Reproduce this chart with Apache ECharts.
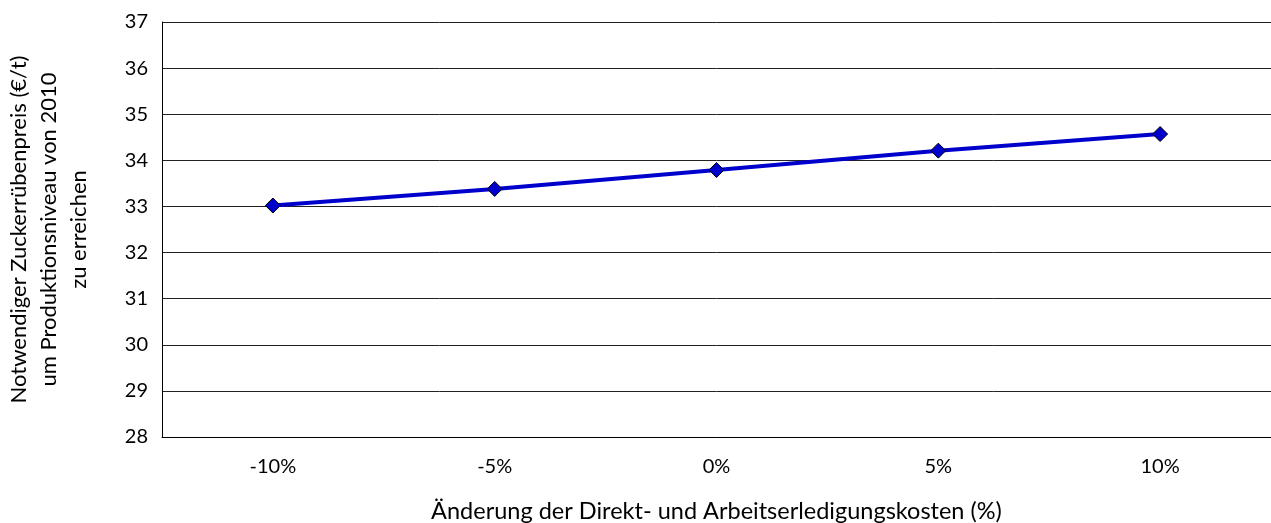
<!DOCTYPE html>
<html>
<head>
<meta charset="utf-8">
<script src="https://cdn.jsdelivr.net/npm/echarts@6/dist/echarts.min.js"></script>
<style>
  html, body { margin: 0; padding: 0; background: #fff; }
  #chart { width: 1271px; height: 523px; }
</style>
</head>
<body>
<div id="chart"></div>
<script>
// Änderung der Kosten (Kategorien) und notwendiger Preis
const categories = ['-10%', '-5%', '0%', '5%', '10%']
const preis = [33.02, 33.38, 33.79, 34.21, 34.57]

const fontFamily = 'Lato, "Open Sans", sans-serif'

const chart = echarts.init(document.getElementById('chart'))
chart.setOption({
  animation: false,
  grid: {
    left: 162,
    right: 0,
    top: 22,
    bottom: 86,
    containLabel: false,
    outerBoundsMode: 'none'
  },
  xAxis: {
    type: 'category',
    data: categories,
    boundaryGap: true,
    name: 'Änderung der Direkt- und Arbeitserledigungskosten (%)',
    nameLocation: 'middle',
    nameGap: 62,
    nameTextStyle: { color: '#000', fontSize: 23.5, fontFamily: fontFamily },
    axisLine: { lineStyle: { color: '#000', width: 1 } },
    axisTick: { alignWithLabel: true, length: 7, lineStyle: { color: '#333' } },
    axisLabel: { color: '#000', fontSize: 20, fontFamily: fontFamily, margin: 20 },
    splitLine: { show: false }
  },
  yAxis: {
    type: 'value',
    min: 28,
    max: 37,
    interval: 1,
    name: 'Notwendiger Zuckerrübenpreis (€/t)\num Produktionsniveau von 2010\nzu erreichen',
    nameLocation: 'middle',
    nameGap: 68,
    nameTextStyle: { color: '#000', fontSize: 22, fontFamily: fontFamily, lineHeight: 30, align: 'center' },
    axisLine: { show: true, lineStyle: { color: '#000', width: 1 } },
    axisTick: { show: false },
    axisLabel: { color: '#000', fontSize: 20, fontFamily: fontFamily, margin: 14 },
    splitLine: { show: true, lineStyle: { color: '#222', width: 1 } }
  },
  series: [{
    type: 'line',
    data: preis,
    symbol: 'diamond',
    symbolSize: 15,
    lineStyle: { color: '#0000CC', width: 4 },
    itemStyle: { color: '#0000CC', borderColor: '#000', borderWidth: 1 }
  }]
})
</script>
</body>
</html>
